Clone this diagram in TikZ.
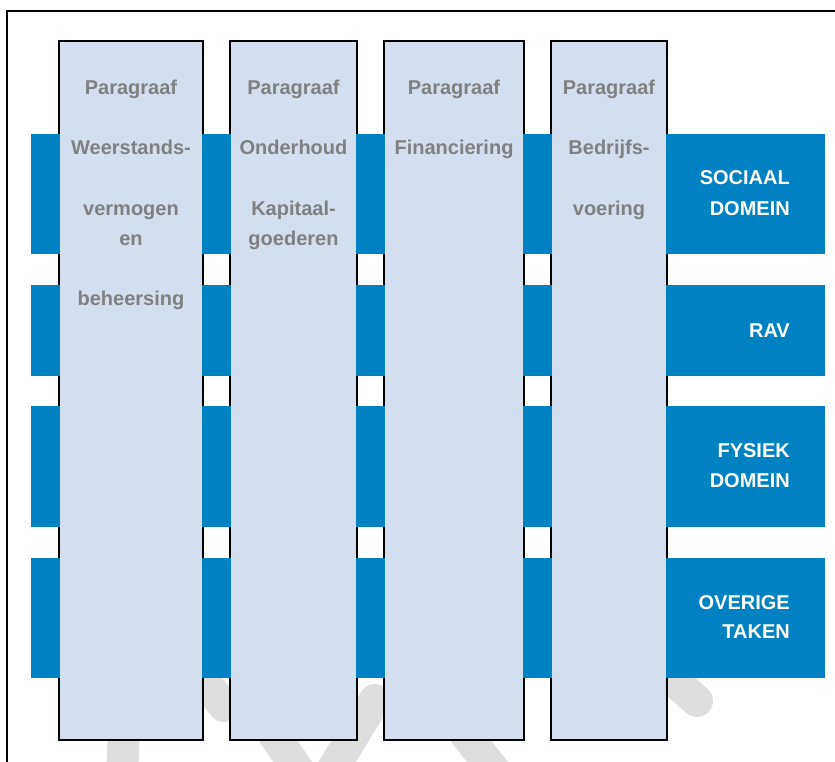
\documentclass[tikz,border=0pt]{standalone}
\usepackage{fontspec}
\setmainfont{Liberation Sans}
\definecolor{barblue}{RGB}{0,129,194}
\definecolor{colfill}{RGB}{211,223,238}
\definecolor{coltxt}{RGB}{128,128,128}
\definecolor{wmgray}{RGB}{222,222,222}
\tikzset{
  paracol/.style={draw=black, line width=3.6pt, fill=colfill, minimum width=#1,
    minimum height=697, inner sep=0pt, outer sep=0pt},
  domainbar/.style={fill=barblue, minimum width=794, inner sep=0pt, outer sep=0pt},
  coltext/.style={text=coltxt, anchor=base, inner sep=0pt},
  domtext/.style={text=white, anchor=base east, inner sep=0pt},
  wm/.style={wmgray, line width=32pt, line cap=round}
}
\begin{document}
\begin{tikzpicture}[x=1pt, y=-1pt, font=\bfseries\fontsize{20}{24}\selectfont]
\useasboundingbox (0,0) rectangle (835,762);
\clip (0,0) rectangle (835,762);
\draw[wm] (121,800) -- (124,730);
\draw[wm] (180,650) -- (224,706);
\draw[wm] (250,700) -- (312,790);
\draw[wm] (375,700) -- (320,790);
\draw[wm] (430,690) -- (510,790);
\draw[wm] (640,650) -- (697,701);
\draw[line width=2pt] (7,800) -- (7,11) -- (840,11);
\node[paracol=142] (c1) at (131,390.5) {};
\node[paracol=125] (c2) at (293.5,390.5) {};
\node[paracol=138] (c3) at (454,390.5) {};
\node[paracol=114] (c4) at (609,390.5) {};
\node[domainbar, minimum height=120] (b1) at (428,194) {};
\node[domainbar, minimum height=91] (b2) at (428,330.5) {};
\node[domainbar, minimum height=121] (b3) at (428,466.5) {};
\node[domainbar, minimum height=120] (b4) at (428,618) {};
\foreach \c in {c1,c2,c3,c4}
  \fill[colfill] (\c.south west) rectangle (\c.north east);
\node[coltext] (p1) at (131,95) {Paragraaf};
\node[coltext] (p2) at (293.5,95) {Paragraaf};
\node[coltext] (p3) at (454,95) {Paragraaf};
\node[coltext] (p4) at (609,95) {Paragraaf};
\node[coltext] (w1) at (131,155) {Weerstands-};
\node[coltext] (w2) at (131,215) {vermogen};
\node[coltext] (w3) at (131,245) {en};
\node[coltext] (w4) at (131,305) {beheersing};
\node[coltext] (o1) at (293.5,155) {Onderhoud};
\node[coltext] (o2) at (293.5,215) {Kapitaal-};
\node[coltext] (o3) at (293.5,245) {goederen};
\node[coltext] (f1) at (454,155) {Financiering};
\node[coltext] (v1) at (609,155) {Bedrijfs-};
\node[coltext] (v2) at (609,215) {voering};
\node[domtext] (s1) at (790,185) {SOCIAAL};
\node[domtext] (s2) at (790,215) {DOMEIN};
\node[domtext] (r1) at (790,337) {RAV};
\node[domtext] (y1) at (790,457) {FYSIEK};
\node[domtext] (y2) at (790,487) {DOMEIN};
\node[domtext] (t1) at (790,609) {OVERIGE};
\node[domtext] (t2) at (790,638) {TAKEN};
\end{tikzpicture}
\end{document}
